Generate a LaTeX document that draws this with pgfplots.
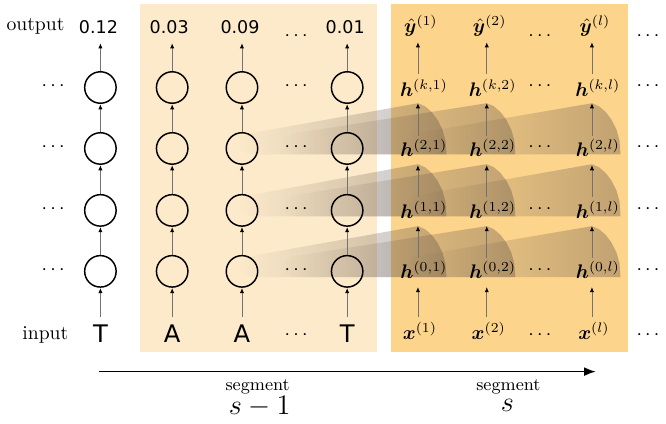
\documentclass[border=0pt]{standalone}
\usepackage{fontspec}
\usepackage{bm}
\usepackage{pgfplots}
\pgfplotsset{compat=1.18}
\usetikzlibrary{arrows.meta,fadings}
\newfontfamily\dejavu{DejaVu Sans}
\definecolor{beige}{RGB}{253,234,203}
\definecolor{orng}{RGB}{253,212,140}
\definecolor{bandc}{RGB}{95,80,70}
\tikzfading[name=bandfade, left color=transparent!100, right color=transparent!10]
\newcommand{\num}[1]{{\dejavu\fontsize{8.9}{10}\selectfont #1}}
\newcommand{\tok}[1]{{\dejavu\fontsize{12.3}{14}\selectfont #1}}
\begin{document}
\begin{tikzpicture}
\begin{axis}[scale only axis, width=333pt, height=214pt,
  xmin=0, xmax=666, ymin=0, ymax=428, y dir=reverse,
  hide axis, clip=false]
% invisible frame
\addplot[draw=none] coordinates {(0,0) (666,428)};
% segment backgrounds
\addplot[fill=beige, draw=none] coordinates {(138,4) (379,4) (379,358) (138,358)};
\addplot[fill=orng, draw=none] coordinates {(394,4) (635,4) (635,358) (394,358)};
% attention bands
\pgfplotsset{band/.style={fill=bandc, draw=none, fill opacity=0.42, path fading=bandfade}}
\addplot[band] coordinates {(421,230) (428,233) (435,239) (441,247) (446,257) (449,268) (450,282) (250,282) (242,279) (238,272) (241,265) (248,261)};
\addplot[band] coordinates {(491,230) (498,233) (505,239) (511,247) (516,257) (519,268) (520,282) (295,282) (287,279) (283,272) (286,265) (293,261)};
\addplot[band] coordinates {(598,230) (605,233) (612,239) (618,247) (623,257) (626,268) (627,282) (419,282) (411,279) (407,272) (410,265) (417,261)};
\addplot[band] coordinates {(421,167) (428,170) (435,176) (441,184) (446,194) (449,205) (450,220) (250,220) (242,217) (238,210) (241,203) (248,199)};
\addplot[band] coordinates {(491,167) (498,170) (505,176) (511,184) (516,194) (519,205) (520,220) (295,220) (287,217) (283,210) (286,203) (293,199)};
\addplot[band] coordinates {(598,167) (605,170) (612,176) (618,184) (623,194) (626,205) (627,220) (419,220) (411,217) (407,210) (410,203) (417,199)};
\addplot[band] coordinates {(421,105) (428,108) (435,114) (441,122) (446,132) (449,143) (450,157) (250,157) (242,154) (238,147) (241,140) (248,136)};
\addplot[band] coordinates {(491,105) (498,108) (505,114) (511,122) (516,132) (519,143) (520,157) (295,157) (287,154) (283,147) (286,140) (293,136)};
\addplot[band] coordinates {(598,105) (605,108) (612,114) (618,122) (623,132) (626,143) (627,157) (419,157) (411,154) (407,147) (410,140) (417,136)};
% neurons of segment s-1
\addplot[only marks, mark=o, mark size=8pt, mark options={line width=0.75pt, black}] coordinates {
(98,89) (98,151) (98,214) (98,276)
(171,89) (171,151) (171,214) (171,276)
(242,89) (242,151) (242,214) (242,276)
(349,89) (349,151) (349,214) (349,276)};
% vertical arrows
\addplot[black!55, line width=0.45pt, quiver={u=\thisrow{u}, v=\thisrow{v},
  every arrow/.append style={-{Latex[length=2.6pt,width=2.2pt,color=black]}}}]
  table[x=x, y=y] {
x y u v
98 322 0 -29
98 260 0 -29
98 198 0 -30
98 135 0 -29
98 73 0 -29
171 322 0 -29
171 260 0 -29
171 198 0 -30
171 135 0 -29
171 73 0 -29
242 322 0 -29
242 260 0 -29
242 198 0 -30
242 135 0 -29
242 73 0 -29
349 322 0 -29
349 260 0 -29
349 198 0 -30
349 135 0 -29
349 73 0 -29
421 322 0 -30
421 262 0 -32
421 200 0 -32
421 138 0 -33
421 75 0 -32
491 322 0 -30
491 262 0 -32
491 200 0 -32
491 138 0 -33
491 75 0 -32
598 322 0 -30
598 262 0 -32
598 200 0 -32
598 138 0 -33
598 75 0 -32
};
% segment axis arrow
\addplot[black, line width=0.8pt, -{Latex[length=6pt,width=4.5pt]}] coordinates {(97,378) (602,378)};
% left labels
\node[anchor=base] at (axis cs:32,31) {output};
\node[anchor=base] at (axis cs:42,345) {input};
\node at (axis cs:50,88) {$\cdots$};
\node at (axis cs:50,150) {$\cdots$};
\node at (axis cs:50,213) {$\cdots$};
\node at (axis cs:50,275) {$\cdots$};
% outputs of segment s-1
\node[anchor=base] at (axis cs:96,34.5) {\num{0.12}};
\node[anchor=base] at (axis cs:168,34.5) {\num{0.03}};
\node[anchor=base] at (axis cs:240,34.5) {\num{0.09}};
\node[anchor=base] at (axis cs:347,34.5) {\num{0.01}};
\node at (axis cs:297,37) {$\cdots$};
% inputs of segment s-1
\node[anchor=base] at (axis cs:98,348) {\tok{T}};
\node[anchor=base] at (axis cs:171,348) {\tok{A}};
\node[anchor=base] at (axis cs:242,348) {\tok{A}};
\node[anchor=base] at (axis cs:349,348) {\tok{T}};
\node at (axis cs:297,341) {$\cdots$};
\node at (axis cs:297,88) {$\cdots$};
\node at (axis cs:297,150) {$\cdots$};
\node at (axis cs:297,213) {$\cdots$};
\node at (axis cs:297,275) {$\cdots$};
% segment s labels
\node[anchor=base] at (axis cs:424,33) {$\bm{\hat{y}}^{(1)}$};
\node[anchor=base] at (axis cs:494,33) {$\bm{\hat{y}}^{(2)}$};
\node[anchor=base] at (axis cs:601,33) {$\bm{\hat{y}}^{(l)}$};
\node[anchor=base] at (axis cs:427,98) {$\bm{h}^{(k,1)}$};
\node[anchor=base] at (axis cs:497,98) {$\bm{h}^{(k,2)}$};
\node[anchor=base] at (axis cs:604,98) {$\bm{h}^{(k,l)}$};
\node[anchor=base] at (axis cs:427,159) {$\bm{h}^{(2,1)}$};
\node[anchor=base] at (axis cs:497,159) {$\bm{h}^{(2,2)}$};
\node[anchor=base] at (axis cs:604,159) {$\bm{h}^{(2,l)}$};
\node[anchor=base] at (axis cs:427,222) {$\bm{h}^{(1,1)}$};
\node[anchor=base] at (axis cs:497,222) {$\bm{h}^{(1,2)}$};
\node[anchor=base] at (axis cs:604,222) {$\bm{h}^{(1,l)}$};
\node[anchor=base] at (axis cs:427,283) {$\bm{h}^{(0,1)}$};
\node[anchor=base] at (axis cs:497,283) {$\bm{h}^{(0,2)}$};
\node[anchor=base] at (axis cs:604,283) {$\bm{h}^{(0,l)}$};
\node[anchor=base] at (axis cs:423,345) {$\bm{x}^{(1)}$};
\node[anchor=base] at (axis cs:493,345) {$\bm{x}^{(2)}$};
\node[anchor=base] at (axis cs:600,345) {$\bm{x}^{(l)}$};
\node at (axis cs:545,37) {$\cdots$};
\node at (axis cs:545,88) {$\cdots$};
\node at (axis cs:545,150) {$\cdots$};
\node at (axis cs:545,213) {$\cdots$};
\node at (axis cs:545,275) {$\cdots$};
\node at (axis cs:545,341) {$\cdots$};
\node at (axis cs:655,37) {$\cdots$};
\node at (axis cs:655,88) {$\cdots$};
\node at (axis cs:655,150) {$\cdots$};
\node at (axis cs:655,213) {$\cdots$};
\node at (axis cs:655,275) {$\cdots$};
\node at (axis cs:655,341) {$\cdots$};
% segment labels
\node at (axis cs:258,394) {\small segment};
\node at (axis cs:260,414) {\Large $s-1$};
\node at (axis cs:513,394) {\small segment};
\node at (axis cs:512,412) {\Large $s$};
\end{axis}
\end{tikzpicture}
\end{document}
